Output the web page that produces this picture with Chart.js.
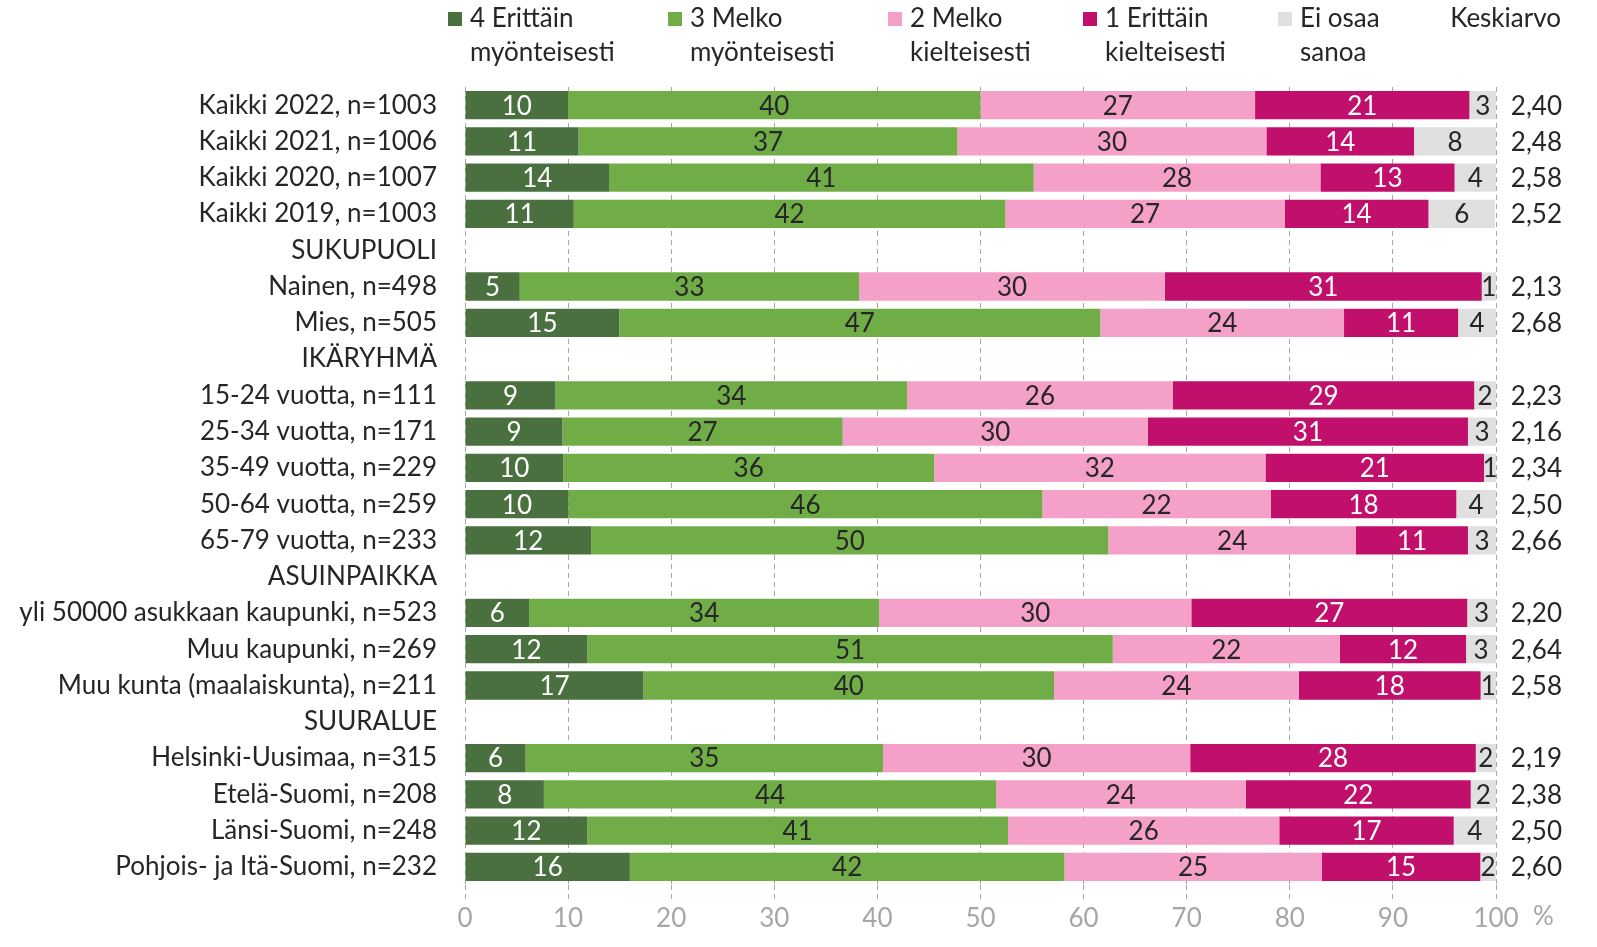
<!DOCTYPE html>
<html lang="fi">
<head>
<meta charset="utf-8">
<title>Kaavio</title>
<script src="https://cdn.jsdelivr.net/npm/chart.js@4.4.1/dist/chart.umd.min.js"></script>
<style>
  html, body { margin: 0; padding: 0; background: #fff; }
  #wrap { width: 1597px; height: 947px; position: relative; }
</style>
</head>
<body>
<div id="wrap"><canvas id="chart"></canvas></div>
<script>
// ===== DATA =====
const categories = [
  'Kaikki 2022, n=1003', 'Kaikki 2021, n=1006', 'Kaikki 2020, n=1007', 'Kaikki 2019, n=1003',
  'SUKUPUOLI', 'Nainen, n=498', 'Mies, n=505',
  'IKÄRYHMÄ', '15-24 vuotta, n=111', '25-34 vuotta, n=171', '35-49 vuotta, n=229', '50-64 vuotta, n=259', '65-79 vuotta, n=233',
  'ASUINPAIKKA', 'yli 50000 asukkaan kaupunki, n=523', 'Muu kaupunki, n=269', 'Muu kunta (maalaiskunta), n=211',
  'SUURALUE', 'Helsinki-Uusimaa, n=315', 'Etelä-Suomi, n=208', 'Länsi-Suomi, n=248', 'Pohjois- ja Itä-Suomi, n=232'
];

// 4 Erittäin myönteisesti
const v4 = [9.99, 11.02, 13.97, 10.55, null, 5.31, 14.97, null, 8.78, 9.45, 9.52, 10.03, 12.24, null, 6.22, 11.87, 17.31, null, 5.88, 7.65, 11.87, 15.99];
// 3 Melko myönteisesti
const v3 = [40.01, 36.74, 41.19, 41.86, null, 32.92, 46.66, null, 34.11, 27.18, 35.99, 45.98, 50.16, null, 33.95, 50.96, 39.82, null, 34.66, 43.86, 40.8, 42.16];
// 2 Melko kielteisesti
const v2 = [26.63, 29.97, 27.81, 27.09, null, 29.65, 23.63, null, 25.75, 29.61, 32.13, 22.14, 24.02, null, 30.28, 22.03, 23.74, null, 29.8, 24.21, 26.31, 24.94];
// 1 Erittäin kielteisesti
const v1 = [20.79, 14.32, 13.01, 13.95, null, 30.74, 11.07, null, 29.25, 31.04, 21.2, 18.0, 10.86, null, 26.76, 12.24, 17.64, null, 27.7, 21.83, 16.92, 15.39];
// Ei osaa sanoa
const vEos = [2.58, 7.95, 4.02, 6.45, null, 1.38, 3.67, null, 2.11, 2.72, 1.16, 3.85, 2.72, null, 2.79, 2.9, 1.49, null, 1.96, 2.45, 4.1, 1.52];

const means = [2.40, 2.48, 2.58, 2.52, null, 2.13, 2.68, null, 2.23, 2.16, 2.34, 2.50, 2.66, null, 2.20, 2.64, 2.58, null, 2.19, 2.38, 2.50, 2.60];

const seriesNames = [
  ['4 Erittäin', 'myönteisesti'],
  ['3 Melko', 'myönteisesti'],
  ['2 Melko', 'kielteisesti'],
  ['1 Erittäin', 'kielteisesti'],
  ['Ei osaa', 'sanoa']
];
const meanTitle = 'Keskiarvo';
const unitLabel = '%';

// ===== STYLE =====
const FONT = 'Lato, "Open Sans", sans-serif';
const TXT = '#262626';
const AXIS_GREY = '#a6a6a6';
const colors = ['#4a7040', '#70ad47', '#f4a0c8', '#c0106c', '#e0e0e0'];
const labelColors = ['#ffffff', TXT, TXT, '#ffffff', TXT];
const legendX = [448, 668, 888, 1083, 1278];

// bar value labels
const barLabels = {
  id: 'barLabels',
  afterDatasetsDraw(chart) {
    const ctx = chart.ctx;
    ctx.save();
    ctx.font = '26px ' + FONT;
    ctx.textAlign = 'center';
    ctx.textBaseline = 'middle';
    chart.data.datasets.forEach((ds, i) => {
      chart.getDatasetMeta(i).data.forEach((el, j) => {
        const v = ds.data[j];
        if (v == null) return;
        ctx.fillStyle = labelColors[i];
        ctx.fillText(Math.round(v), (el.x + el.base) / 2, el.y + 1);
      });
    });
    ctx.restore();
  }
};

// legend, mean column, % sign
const extras = {
  id: 'extras',
  afterDraw(chart) {
    const ctx = chart.ctx;
    const y = chart.scales.y;
    ctx.save();
    ctx.font = '26px ' + FONT;
    ctx.textBaseline = 'middle';

    seriesNames.forEach((lines, i) => {
      ctx.fillStyle = colors[i];
      ctx.fillRect(legendX[i], 12, 14, 14);
      ctx.fillStyle = TXT;
      ctx.textAlign = 'left';
      lines.forEach((t, k) => ctx.fillText(t, legendX[i] + 22, 19 + k * 34));
    });

    ctx.textAlign = 'right';
    ctx.fillStyle = TXT;
    ctx.fillText(meanTitle, 1561, 19);
    means.forEach((m, j) => {
      if (m == null) return;
      ctx.fillText(m.toFixed(2).replace('.', ','), 1562, y.getPixelForValue(j) + 1);
    });

    ctx.textAlign = 'left';
    ctx.fillStyle = AXIS_GREY;
    ctx.fillText(unitLabel, 1533, 917);
    ctx.restore();
  }
};

const series = [v4, v3, v2, v1, vEos];

new Chart(document.getElementById('chart'), {
  type: 'bar',
  data: {
    labels: categories,
    datasets: series.map((d, i) => ({
      label: seriesNames[i].join(' '),
      data: d,
      backgroundColor: colors[i],
      borderWidth: 0,
      categoryPercentage: 1,
      barPercentage: 0.78
    }))
  },
  options: {
    indexAxis: 'y',
    responsive: true, maintainAspectRatio: false,
    animation: false,
    layout: { padding: { left: 0, right: 101, top: 87, bottom: 0 } },
    plugins: { legend: { display: false }, tooltip: { enabled: false } },
    scales: {
      x: {
        stacked: true, min: 0, max: 100,
        ticks: { stepSize: 10, color: AXIS_GREY, font: { family: FONT, size: 26 }, padding: 0 },
        grid: { color: '#a6a6a6', lineWidth: 1, tickLength: 18, tickColor: '#a6a6a6', tickBorderDash: [5, 4] },
        border: { display: false, dash: [5, 4] },
        afterFit: s => { s.height = 62; }
      },
      y: {
        stacked: true,
        ticks: { color: TXT, font: { family: FONT, size: 26 }, padding: 28, autoSkip: false },
        grid: { display: false, drawTicks: false },
        border: { display: false },
        afterFit: s => { s.width = 465; }
      }
    }
  },
  plugins: [barLabels, extras]
});
</script>
</body>
</html>
